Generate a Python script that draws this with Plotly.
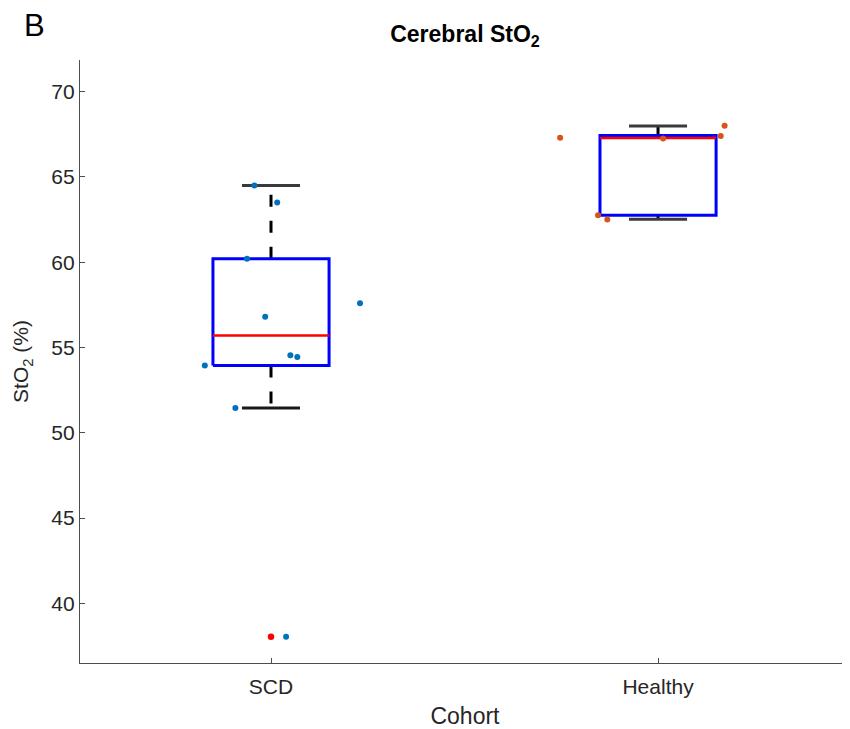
import plotly.graph_objects as go

# ---- data ----
categories = ["SCD", "Healthy"]
cat_pos = [1, 2]

scd_values = [64.5, 63.5, 60.2, 56.8, 57.6, 54.55, 54.45, 53.95, 51.45, 38.05]
scd_jitter = [-0.043, 0.016, -0.062, -0.015, 0.23, 0.05, 0.068, -0.171, -0.092, 0.039]
healthy_values = [67.3, 67.25, 68.0, 67.4, 62.75, 62.5]
healthy_jitter = [-0.253, 0.013, 0.172, 0.162, -0.155, -0.131]

# box statistics (MATLAB boxplot style)
q1 = [53.95, 62.75]
medians = [55.7, 67.28]
q3 = [60.2, 67.42]
whisk_low = [51.45, 62.52]
whisk_high = [64.5, 67.98]
outliers_scd = [38.05]

box_half = 0.15
cap_half = 0.075

fig = go.Figure()

for i, p in enumerate(cat_pos):
    dashed = "12px,14px" if i == 0 else "solid"
    # whiskers
    fig.add_trace(go.Scatter(x=[p, p], y=[q3[i], whisk_high[i]], mode="lines",
                             line=dict(color="black", width=3, dash=dashed),
                             showlegend=False, hoverinfo="skip"))
    fig.add_trace(go.Scatter(x=[p, p], y=[q1[i], whisk_low[i]], mode="lines",
                             line=dict(color="black", width=3, dash=dashed),
                             showlegend=False, hoverinfo="skip"))
    # caps
    fig.add_trace(go.Scatter(x=[p - cap_half, p + cap_half], y=[whisk_high[i]] * 2, mode="lines",
                             line=dict(color="#3a3a3a", width=3), showlegend=False, hoverinfo="skip"))
    fig.add_trace(go.Scatter(x=[p - cap_half, p + cap_half], y=[whisk_low[i]] * 2, mode="lines",
                             line=dict(color="#1a1a1a" if i == 0 else "#3a3a3a", width=3),
                             showlegend=False, hoverinfo="skip"))
    # box
    fig.add_trace(go.Scatter(x=[p - box_half, p + box_half, p + box_half, p - box_half, p - box_half],
                             y=[q1[i], q1[i], q3[i], q3[i], q1[i]], mode="lines",
                             line=dict(color="#0000FF", width=3), showlegend=False, hoverinfo="skip"))
    # median
    fig.add_trace(go.Scatter(x=[p - box_half, p + box_half], y=[medians[i]] * 2, mode="lines",
                             line=dict(color="#FF0000", width=2.5), showlegend=False, hoverinfo="skip"))

# outlier marker
fig.add_trace(go.Scatter(x=[cat_pos[0]] * len(outliers_scd), y=outliers_scd, mode="markers",
                         marker=dict(color="#FF0000", size=6.5), showlegend=False))

# jittered data points
fig.add_trace(go.Scatter(x=[cat_pos[0] + j for j in scd_jitter], y=scd_values, mode="markers",
                         marker=dict(color="#0072BD", size=6), showlegend=False))
fig.add_trace(go.Scatter(x=[cat_pos[1] + j for j in healthy_jitter], y=healthy_values, mode="markers",
                         marker=dict(color="#D95319", size=6), showlegend=False))

axis_color = "#4d4d4d"
text_color = "#262626"
font_family = "Liberation Sans, Arial, sans-serif"

fig.update_layout(
    width=850, height=729,
    margin=dict(l=72, r=8, t=52, b=74, autoexpand=False),
    paper_bgcolor="white", plot_bgcolor="white",
    font=dict(family=font_family, color=text_color, size=21),
    title=dict(text="<b>Cerebral StO<sub>2</sub></b>", x=0.5, xref="paper",
               y=1 - 26 / 729, yref="container", yanchor="middle", xanchor="center",
               font=dict(size=23, color="black", family=font_family)),
    xaxis=dict(range=[0.5065, 2.496], tickvals=cat_pos, ticktext=categories,
               showline=True, linecolor=axis_color, linewidth=1.2, mirror=False,
               ticks="inside", ticklen=5, tickcolor=axis_color, showgrid=False, zeroline=False,
               tickfont=dict(size=21, color=text_color), ticklabelstandoff=5,
               title=dict(text="Cohort", font=dict(size=23, color=text_color), standoff=10)),
    yaxis=dict(range=[36.51, 71.85], tickvals=[40, 45, 50, 55, 60, 65, 70],
               showline=True, linecolor=axis_color, linewidth=1.2, mirror=False,
               ticks="inside", ticklen=5, tickcolor=axis_color, showgrid=False, zeroline=False,
               tickfont=dict(size=21, color=text_color),
               title=dict(text="StO<sub>2</sub> (%)", font=dict(size=21, color=text_color), standoff=16)),
    annotations=[dict(text="B", xref="paper", yref="paper", x=-0.0597, y=1.058,
                      showarrow=False, font=dict(size=31, color="black", family="Liberation Sans Narrow, Liberation Sans, sans-serif"),
                      xanchor="center", yanchor="middle")],
)

fig.write_html("out.html")
